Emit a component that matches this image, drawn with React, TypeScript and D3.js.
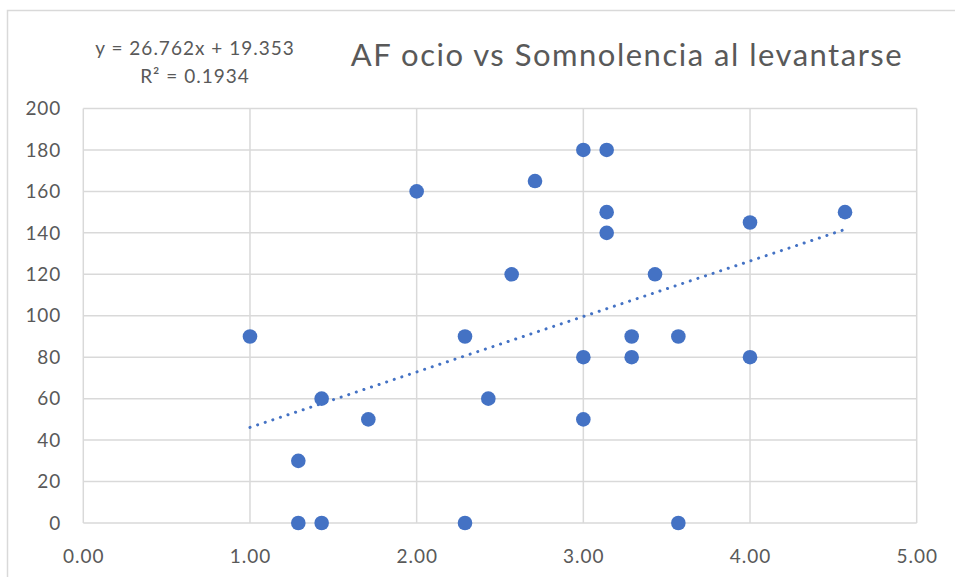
import React from "react";
import * as d3 from "d3";

const xValues = [1.0, 1.29, 1.29, 1.43, 1.43, 1.71, 2.0, 2.29, 2.29, 2.43, 2.57, 2.71, 3.0, 3.0, 3.0, 3.14, 3.14, 3.14, 3.29, 3.29, 3.43, 3.57, 3.57, 4.0, 4.0, 4.57];
const yValues = [90, 30, 0, 60, 0, 50, 160, 90, 0, 60, 120, 165, 180, 80, 50, 180, 150, 140, 90, 80, 120, 90, 0, 145, 80, 150];
const xTicks = [0, 1, 2, 3, 4, 5];
const yTicks = [0, 20, 40, 60, 80, 100, 120, 140, 160, 180, 200];
const slope = 26.762;
const intercept = 19.353;
const r2 = "0.1934";
const title = "AF ocio vs Somnolencia al levantarse";

export default function App() {
  const W = 955, H = 577;
  const x = d3.scaleLinear().domain([0, 5]).range([83.3, 916.7]);
  const y = d3.scaleLinear().domain([0, 200]).range([523, 108.5]);
  const xmin = d3.min(xValues) as number;
  const xmax = d3.max(xValues) as number;
  const trend = d3.line<number>().x((d) => x(d)).y((d) => y(slope * d + intercept))([xmin, xmax]) as string;
  const font = "Lato, 'Noto Sans', sans-serif";
  const txt = "#595959";
  return (
    <svg width={W} height={H} style={{ position: "absolute", left: 0, top: 0, display: "block" }}>
      <rect x={0} y={0} width={W} height={H} fill="#fff" />
      <rect x={7.5} y={10.5} width={W} height={H} fill="#fff" stroke="#d9d9d9" strokeWidth={1.5} />
      {yTicks.map((t) => (
        <line key={"gy" + t} x1={x(0)} x2={x(5)} y1={y(t)} y2={y(t)} stroke="#d9d9d9" strokeWidth={1.5} />
      ))}
      {xTicks.map((t) => (
        <line key={"gx" + t} x1={x(t)} x2={x(t)} y1={y(0)} y2={y(200)} stroke="#d9d9d9" strokeWidth={1.5} />
      ))}
      {yTicks.map((t) => (
        <text key={"ty" + t} x={61} y={y(t)} dy="0.35em" textAnchor="end" fontFamily={font} fontSize={19} letterSpacing={0.8} fill={txt}>
          {t}
        </text>
      ))}
      {xTicks.map((t) => (
        <text key={"tx" + t} x={x(t) + 0.5} y={563} textAnchor="middle" fontFamily={font} fontSize={19} letterSpacing={1} fill={txt}>
          {t.toFixed(2)}
        </text>
      ))}
      {xValues.map((v, i) => (
        <circle key={"p" + i} cx={x(v)} cy={y(yValues[i])} r={7.3} fill="#4472C4" />
      ))}
      <path d={trend} fill="none" stroke="#4472C4" strokeWidth={3} strokeDasharray="0.1 7.9" strokeLinecap="round" />
      <text x={627} y={66} textAnchor="middle" fontFamily={font} fontSize={31} letterSpacing={1.5} fill={txt}>
        {title}
      </text>
      <text x={195} y={54.5} textAnchor="middle" fontFamily={font} fontSize={19} letterSpacing={1} fill={txt}>
        {`y = ${slope}x + ${intercept}`}
      </text>
      <text x={195} y={83} textAnchor="middle" fontFamily={font} fontSize={19} letterSpacing={1} fill={txt}>
        {`R² = ${r2}`}
      </text>
    </svg>
  );
}
